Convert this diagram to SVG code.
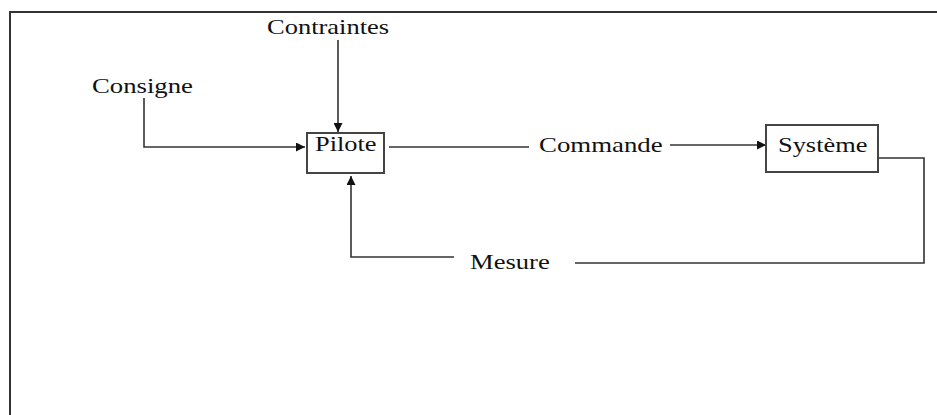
<svg xmlns="http://www.w3.org/2000/svg" width="937" height="415" viewBox="0 0 937 415">
<defs>
<marker id="arr" viewBox="0 0 10 10" refX="10" refY="5" markerWidth="10" markerHeight="9" markerUnits="userSpaceOnUse" orient="auto">
<path d="M0,0 L10,5 L0,10 Z" fill="#111"/>
</marker>
</defs>
<style>
.lbl{font-family:"Liberation Serif","Times New Roman",serif;font-size:22px;fill:#111}
.box{fill:none;stroke:#444;stroke-width:2}
.ln{fill:none;stroke:#333;stroke-width:1.6}
.frame{fill:none;stroke:#333;stroke-width:2}
</style>
<rect width="937" height="415" fill="#fff"/>
<path class="frame" d="M10,420 V12 H940"/>
<g id="connectors">
<path class="ln" d="M338,40 V132" marker-end="url(#arr)"/>
<path class="ln" d="M144,98 V147 H305" marker-end="url(#arr)"/>
<path class="ln" d="M389,147 H529"/>
<path class="ln" d="M670,145 H766" marker-end="url(#arr)"/>
<path class="ln" d="M878,158 H924 V263 H575"/>
<path class="ln" d="M454,257 H351 V176" marker-end="url(#arr)"/>
</g>
<g id="contraintes"><text class="lbl" transform="translate(267,34) scale(1.205,1)">Contraintes</text></g>
<g id="consigne"><text class="lbl" transform="translate(92,93) scale(1.215,1)">Consigne</text></g>
<g id="pilote"><rect class="box" x="307" y="133" width="77" height="40"/><text class="lbl" transform="translate(315,151) scale(1.2,1)">Pilote</text></g>
<g id="commande"><text class="lbl" transform="translate(539,152) scale(1.22,1)">Commande</text></g>
<g id="systeme"><rect class="box" x="766" y="125" width="112" height="47"/><text class="lbl" transform="translate(778,152) scale(1.2,1)">Système</text></g>
<g id="mesure"><text class="lbl" transform="translate(470,269) scale(1.21,1)">Mesure</text></g>
</svg>
